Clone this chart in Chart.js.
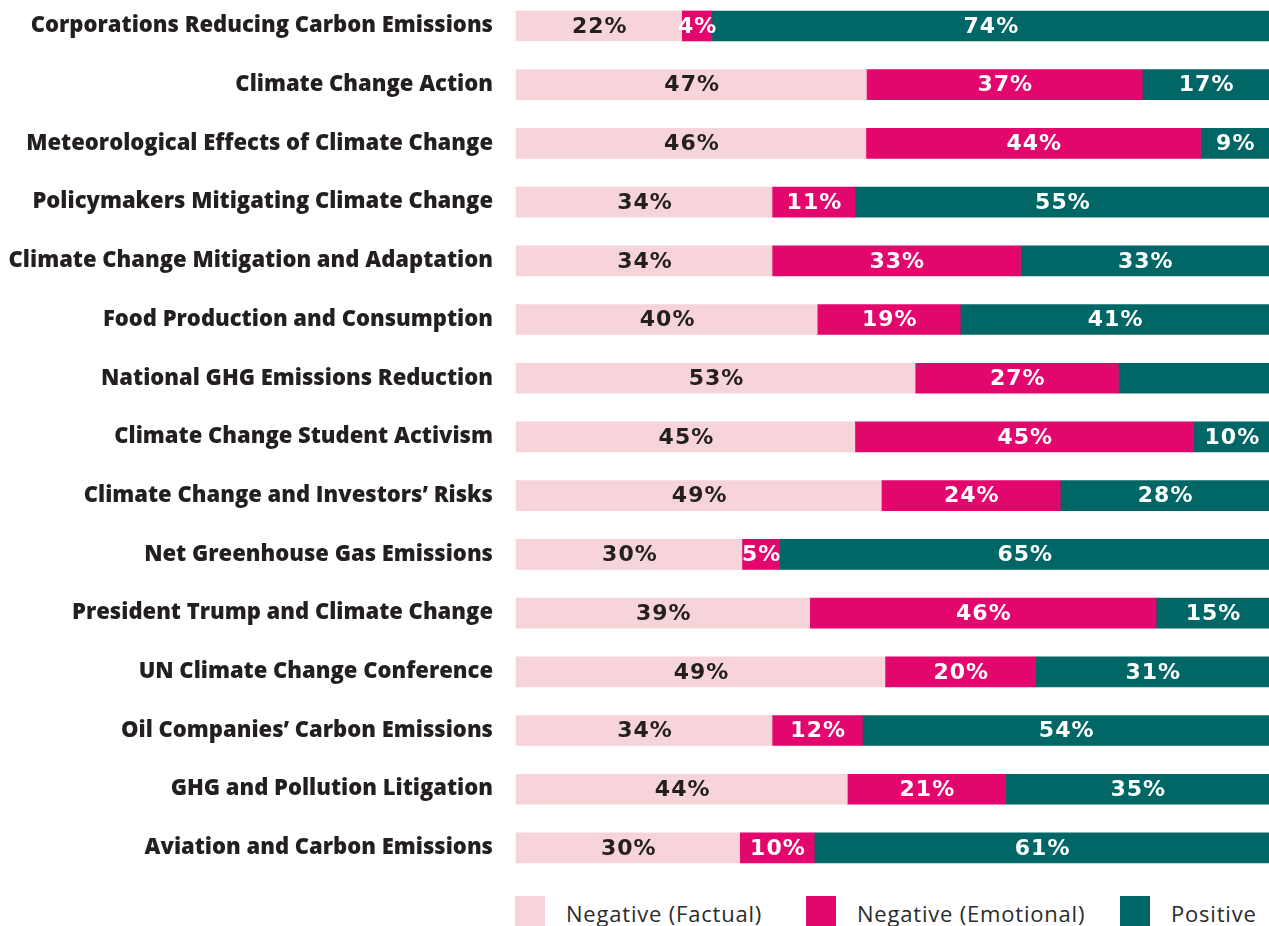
<!DOCTYPE html>
<html>
<head>
<meta charset="utf-8">
<script src="https://cdn.jsdelivr.net/npm/chart.js@4.4.1/dist/chart.umd.min.js"></script>
<style>
    body { margin: 0; background: #fff; overflow: hidden; }
    #wrap { position: relative; width: 1269px; height: 926px; overflow: hidden; }
    #chart_canvas { position: absolute; left: 0; top: -4px; }
    .legend_item { position: absolute; top: 896px; height: 30px; font-family: "Open Sans", "Liberation Sans", sans-serif; font-size: 22px; letter-spacing: 0.8px; color: #2b2b2b; }
    .legend_box { position: absolute; left: 0; top: 0; width: 30px; height: 30px; }
    .legend_text { position: absolute; left: 51px; top: 4px; white-space: nowrap; line-height: 26px; }
</style>
</head>
<body>
<div id="wrap">
    <canvas id="chart_canvas" width="1269" height="886"></canvas>
    <div id="legend"></div>
</div>
<script>
let categories = [
    'Corporations Reducing Carbon Emissions',
    'Climate Change Action',
    'Meteorological Effects of Climate Change',
    'Policymakers Mitigating Climate Change',
    'Climate Change Mitigation and Adaptation',
    'Food Production and Consumption',
    'National GHG Emissions Reduction',
    'Climate Change Student Activism',
    'Climate Change and Investors\u2019 Risks',
    'Net Greenhouse Gas Emissions',
    'President Trump and Climate Change',
    'UN Climate Change Conference',
    'Oil Companies\u2019 Carbon Emissions',
    'GHG and Pollution Litigation',
    'Aviation and Carbon Emissions'
];

let negativeFactual = [22, 47, 46, 34, 34, 40, 53, 45, 49, 30, 39, 49, 34, 44, 30];
let negativeEmotional = [4, 37, 44, 11, 33, 19, 27, 45, 24, 5, 46, 20, 12, 21, 10];
let positive = [74, 17, 9, 55, 33, 41, 20, 10, 28, 65, 15, 31, 54, 35, 61];

// the positive share of "National GHG Emissions Reduction" carries no label in the picture
let unlabeled = [[2, 6]];

let seriesNames = ['Negative (Factual)', 'Negative (Emotional)', 'Positive'];
let seriesColors = ['#f7d3da', '#e3066d', '#006766'];
let labelColors = ['#231f20', '#ffffff', '#ffffff'];

let legendLeft = [515, 806, 1120];

function rowTotal(i) {
    return negativeFactual[i] + negativeEmotional[i] + positive[i];
}

// rounded shares do not always add to 100, so each bar is scaled to fill the row
function widths(values) {
    return values.map(function (v, i) {
        return v / rowTotal(i) * 100;
    });
}

let raw = [negativeFactual, negativeEmotional, positive];

let barLabels = {
    id: 'barLabels',
    afterDatasetsDraw: function (chart) {
        let ctx = chart.ctx;
        ctx.save();
        ctx.font = 'bold 22px "DejaVu Sans", sans-serif';
        ctx.letterSpacing = '1px';
        ctx.textAlign = 'center';
        ctx.textBaseline = 'middle';
        chart.data.datasets.forEach(function (ds, d) {
            let meta = chart.getDatasetMeta(d);
            meta.data.forEach(function (bar, i) {
                let skip = unlabeled.some(function (u) {
                    return u[0] === d && u[1] === i;
                });
                if (skip) return;
                ctx.fillStyle = labelColors[d];
                ctx.fillText(raw[d][i] + '%', (bar.x + bar.base) / 2 + 1, bar.y + 1);
            });
        });
        ctx.restore();
    }
};

function drawChart() {
    new Chart(document.getElementById('chart_canvas'), {
        type: 'bar',
        data: {
            labels: categories,
            datasets: raw.map(function (values, d) {
                return {
                    label: seriesNames[d],
                    data: widths(values),
                    backgroundColor: seriesColors[d],
                    borderWidth: 0,
                    barThickness: 30,
                    clip: false
                };
            })
        },
        options: {
            indexAxis: 'y',
            responsive: false,
            animation: false,
            layout: {
                padding: { top: 0.6, bottom: 4.7, left: 0, right: 0 }
            },
            scales: {
                x: {
                    stacked: true,
                    display: false,
                    min: 0,
                    max: 100
                },
                y: {
                    stacked: true,
                    offset: true,
                    grid: { display: false, drawTicks: false },
                    border: { display: false },
                    ticks: {
                        padding: 23,
                        color: '#231f20',
                        font: { family: '"Open Sans", "Liberation Sans", sans-serif', size: 22, weight: 800 }
                    },
                    afterFit: function (scale) {
                        scale.width = 516;
                        // the tick padding is only meant to push labels off the bars, not to shrink the rows
                        scale.paddingTop = 0;
                        scale.paddingBottom = 0;
                    }
                }
            },
            plugins: {
                legend: { display: false },
                tooltip: { enabled: false }
            }
        },
        plugins: [barLabels]
    });
}

function drawLegend() {
    let legend = document.getElementById('legend');
    seriesNames.forEach(function (name, d) {
        let item = document.createElement('div');
        item.className = 'legend_item';
        item.style.left = legendLeft[d] + 'px';
        let box = document.createElement('div');
        box.className = 'legend_box';
        box.style.background = seriesColors[d];
        let text = document.createElement('span');
        text.className = 'legend_text';
        text.textContent = name;
        item.appendChild(box);
        item.appendChild(text);
        legend.appendChild(item);
    });
}

drawChart();
drawLegend();
</script>
</body>
</html>
